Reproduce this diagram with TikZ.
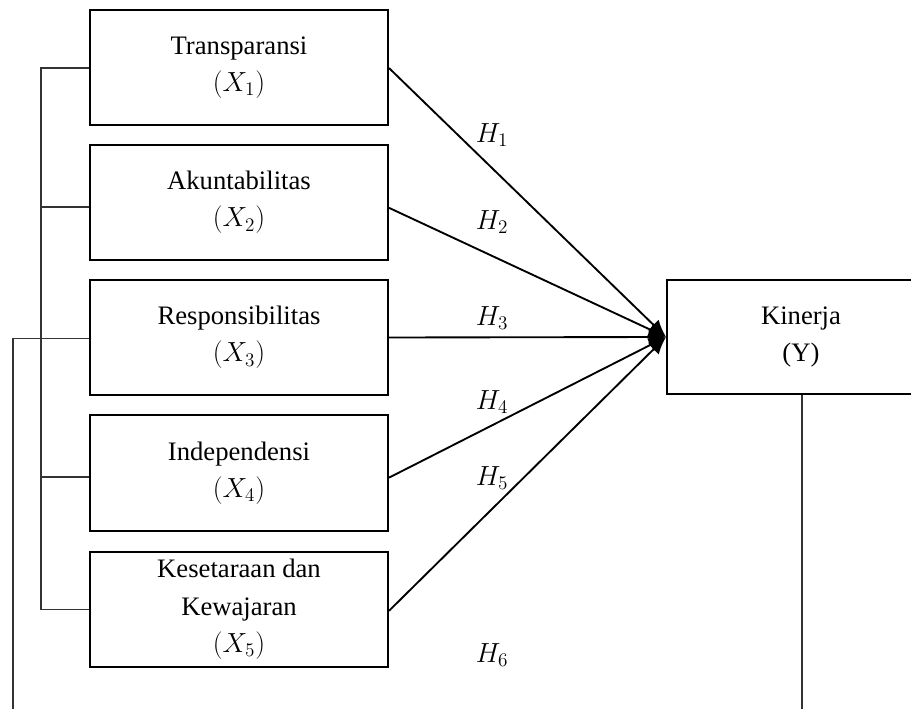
\documentclass[tikz,border=0pt]{standalone}
\usepackage{fontspec}
\setmainfont{Liberation Serif}
\usetikzlibrary{arrows.meta}
\begin{document}
\begin{tikzpicture}[x=0.75pt,y=-0.75pt,
  box/.style={draw,line width=1.5pt,minimum width=223.5pt,minimum height=86.6pt,inner sep=0pt,align=center,font=\fontsize{20}{28}\selectfont},
  arr/.style={line width=1.4pt,-{Latex[length=13pt,width=11pt]}},
  thinline/.style={line width=0.8pt,draw=black!80},
  lbl/.style={font=\fontsize{20}{24}\selectfont,inner sep=0pt}]
\useasboundingbox (0,0) rectangle (911,709);
\node[box] (b1) at (239,67.5) {Transparansi\\$(X_1)$};
\node[box] (b2) at (239,202.5) {Akuntabilitas\\$(X_2)$};
\node[box] (b3) at (239,337.5) {Responsibilitas\\$(X_3)$};
\node[box] (b4) at (239,473) {Independensi\\$(X_4)$};
\node[box] (b5) at (239,609.5) {Kesetaraan dan\\Kewajaran\\$(X_5)$};
\node[box,minimum width=201pt,minimum height=85.5pt] (k) at (801,337) {Kinerja\\(Y)};
% connector points
\coordinate (t1) at ([yshift=-0.4pt]b1.west);
\coordinate (t2) at ([yshift=-3.4pt]b2.west);
\coordinate (t3) at ([yshift=-1pt]b3.west);
\coordinate (t4) at ([yshift=-3pt]b4.west);
\coordinate (t5) at ([yshift=0pt]b5.west);
\coordinate (bx) at (41,0);
\coordinate (lx) at (13,709);
\coordinate (rb) at (802,709);
% bracket
\draw[thinline] (t1) -- (t1 -| bx) -- (t5 -| bx) -- (t5);
\draw[thinline] (t2) -- (t2 -| bx);
\draw[thinline] (t4) -- (t4 -| bx);
\draw[thinline] (t3) -- (t3 -| lx) -- (lx);
\draw[thinline] (k.south -| rb) -- (rb);
% arrows
\draw[arr] ([yshift=-0.4pt]b1.east) -- (k.west);
\draw[arr] ([yshift=-4pt]b2.east) -- (k.west);
\draw[arr] (b3.east) -- (k.west);
\draw[arr] ([yshift=-3.5pt]b4.east) -- (k.west);
\draw[arr] ([yshift=-1pt]b5.east) -- (k.west);
% labels
\node[lbl] (h1) at (492,135) {$H_1$};
\node[lbl] (h2) at (492,222) {$H_2$};
\node[lbl] (h3) at (492,318) {$H_3$};
\node[lbl] (h4) at (492,402) {$H_4$};
\node[lbl] (h5) at (492,478) {$H_5$};
\node[lbl] (h6) at (492,655) {$H_6$};
\end{tikzpicture}
\end{document}
